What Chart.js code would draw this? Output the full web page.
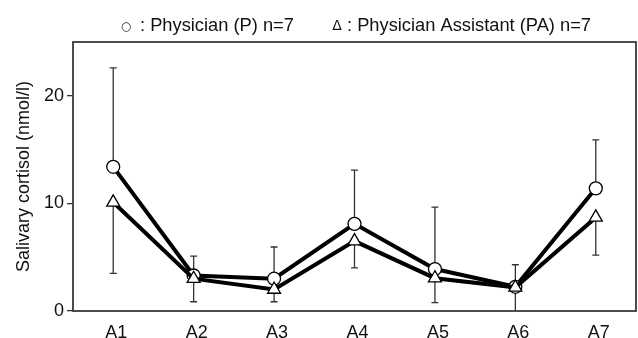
<!DOCTYPE html>
<html><head><meta charset="utf-8">
<script src="https://cdn.jsdelivr.net/npm/chart.js@4"></script>
<style>html,body{margin:0;padding:0;background:#fff}#wrap{width:638px;height:338px}</style>
</head><body><div id="wrap"><canvas id="c" width="638" height="338"></canvas></div>
<script>
const categories = ["A1","A2","A3","A4","A5","A6","A7"];
const physician = [13.4, 3.3, 3.0, 8.1, 3.9, 2.25, 11.4];
const physicianUpper = [22.6, 5.1, 5.95, 13.1, 9.65, 4.3, 15.9];
const assistant = [10.1, 3.0, 2.0, 6.5, 3.05, 2.2, 8.7];
const assistantLower = [3.5, 0.86, 0.86, 4.0, 0.77, -0.5, 5.2];
const yTicks = [0, 10, 20];
const legendSymbols = ["\u25CB", "\u0394"];
const legendLabels = [": Physician (P) n=7", ": Physician Assistant (PA) n=7"];

const FONT = 'Liberation Sans, Arial, sans-serif';

const extras = {
  id: 'extras',
  beforeDatasetsDraw(chart) {
    const {ctx, scales: {x, y}, chartArea} = chart;
    ctx.save();
    ctx.beginPath();
    ctx.rect(chartArea.left, chartArea.top, chartArea.right - chartArea.left, chartArea.bottom - chartArea.top);
    ctx.clip();
    ctx.strokeStyle = '#333';
    ctx.lineWidth = 1.3;
    const draw = (i, from, to) => {
      const px = x.getPixelForValue(i);
      const y0 = y.getPixelForValue(from), y1 = y.getPixelForValue(to);
      ctx.beginPath();
      ctx.moveTo(px, y0); ctx.lineTo(px, y1);
      ctx.moveTo(px - 3.5, y1); ctx.lineTo(px + 3.5, y1);
      ctx.stroke();
    };
    categories.forEach((c, i) => {
      draw(i, physician[i], physicianUpper[i]);
      draw(i, assistant[i], assistantLower[i]);
    });
    ctx.restore();
  },
  afterDraw(chart) {
    const {ctx, chartArea} = chart;
    ctx.save();
    ctx.strokeStyle = '#3a3a3a';
    ctx.lineWidth = 1.8;
    ctx.strokeRect(chartArea.left, chartArea.top, chartArea.right - chartArea.left, chartArea.bottom - chartArea.top);
    // legend
    ctx.fillStyle = '#111';
    ctx.textBaseline = 'alphabetic';
    ctx.textAlign = 'center';
    const symX = [126, 337], txtX = [140, 347], baseY = 31;
    ctx.font = '12px "DejaVu Sans", sans-serif';
    ctx.fillText(legendSymbols[0], symX[0], baseY - 1);
    ctx.font = '14px "DejaVu Sans", sans-serif';
    ctx.fillText(legendSymbols[1], symX[1], baseY - 1);
    ctx.textAlign = 'left';
    ctx.font = '18.3px ' + FONT;
    ctx.fillText(legendLabels[0], txtX[0], baseY);
    ctx.fillText(legendLabels[1], txtX[1], baseY);
    ctx.restore();
  }
};

new Chart(document.getElementById('c'), {
  type: 'line',
  data: {
    labels: categories,
    datasets: [
      {
        label: 'Physician Assistant (PA) n=7',
        data: assistant,
        borderColor: '#000',
        borderWidth: 4,
        pointStyle: 'triangle',
        pointRadius: 7.5,
        pointBorderWidth: 1.3,
        pointBackgroundColor: '#fff',
        pointBorderColor: '#000',
        tension: 0
      },
      {
        label: 'Physician (P) n=7',
        data: physician,
        borderColor: '#000',
        borderWidth: 4,
        pointStyle: 'circle',
        pointRadius: 6.5,
        pointBorderWidth: 1.3,
        pointBackgroundColor: '#fff',
        pointBorderColor: '#000',
        tension: 0
      }
    ]
  },
  options: {
    responsive: false,
    animation: false,
    layout: { autoPadding: false, padding: { left: 5, right: 2, top: 42, bottom: 0 } },
    plugins: {
      legend: { display: false },
      tooltip: { enabled: false },
      title: { display: false }
    },
    scales: {
      x: {
        offset: true,
        grid: { display: false, drawTicks: false },
        border: { display: false },
        ticks: { color: '#111', font: { family: FONT, size: 18 }, padding: 11, labelOffset: 3, maxRotation: 0, autoSkip: false },
        afterFit: (s) => { s.height = 27; s.paddingLeft = 0; s.paddingRight = 0; }
      },
      y: {
        min: 0, max: 25,
        afterBuildTicks: (s) => { s.ticks = yTicks.map(v => ({ value: v })); },
        grid: { display: true, drawOnChartArea: false, tickLength: 6, color: '#333', lineWidth: 1.3 },
        border: { display: false },
        ticks: { color: '#111', font: { family: FONT, size: 18 }, padding: 3 },
        title: { display: true, text: 'Salivary cortisol (nmol/l)', color: '#111', font: { family: FONT, size: 18 }, padding: { top: 8.2, bottom: 9.2 } },
        afterFit: (s) => { s.width = 68; s.paddingTop = 0; s.paddingBottom = 0; }
      }
    }
  },
  plugins: [extras]
});
</script></body></html>
